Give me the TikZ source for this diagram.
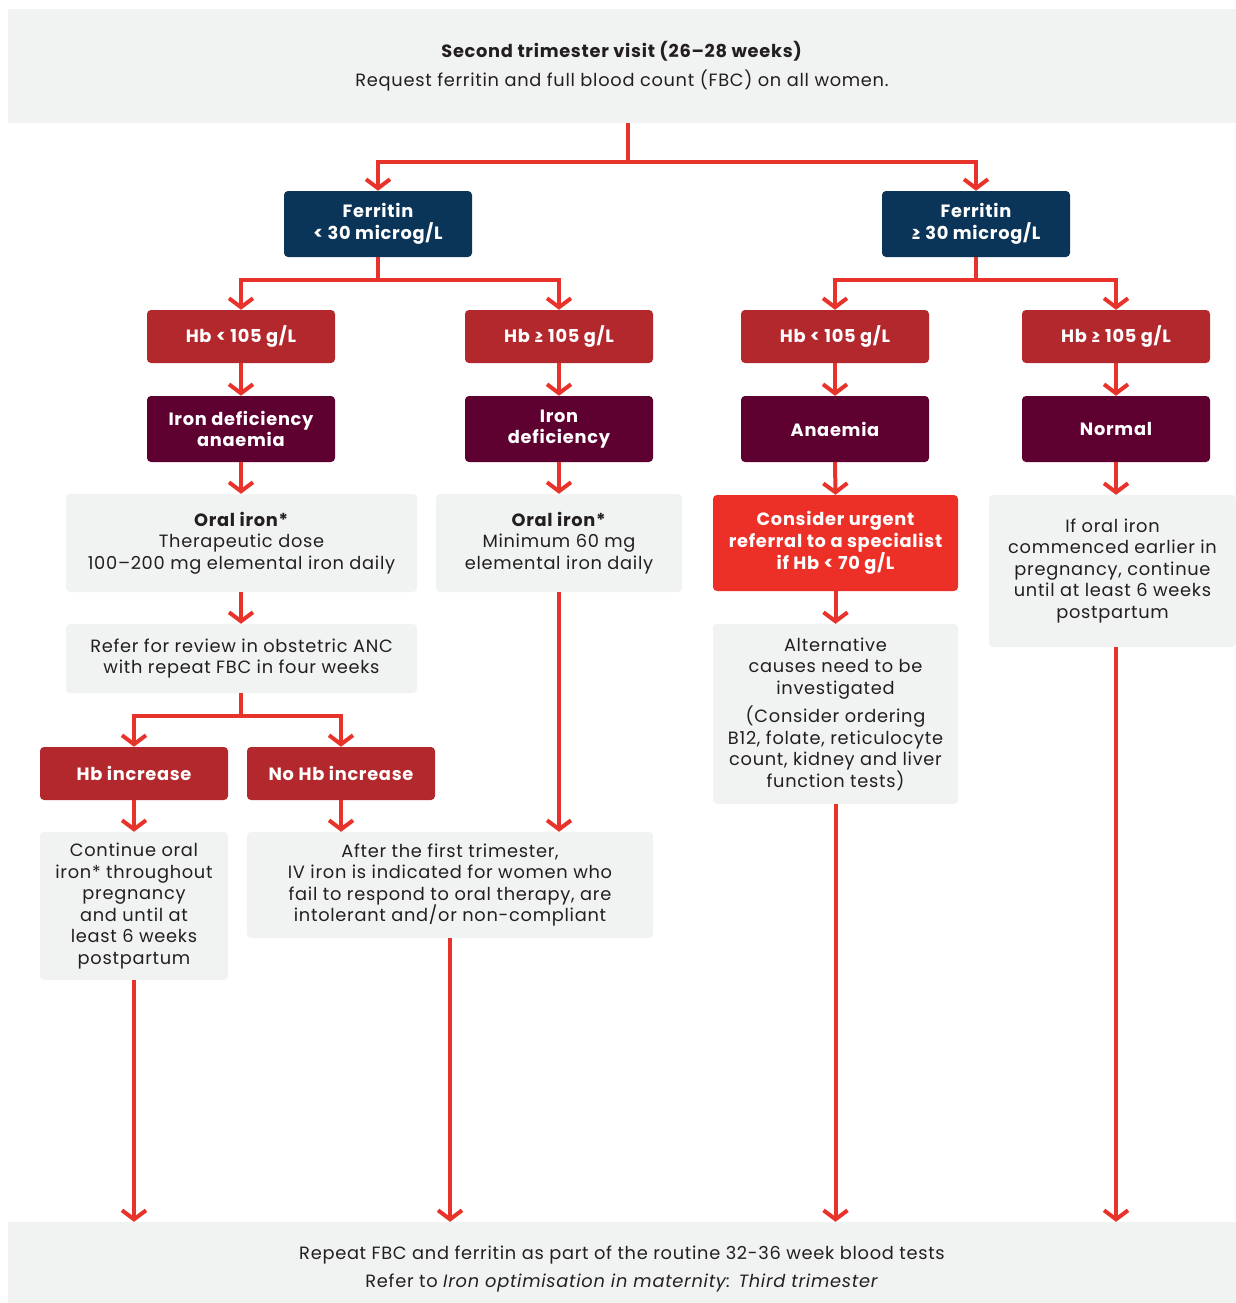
\documentclass[tikz,border=0pt]{standalone}
\usepackage{fontspec}
\setmainfont{Poppins}[LetterSpace=4]
\usetikzlibrary{arrows.meta}
\definecolor{arrred}{HTML}{E8332A}
\definecolor{navy}{HTML}{0B3558}
\definecolor{hbred}{HTML}{B3282D}
\definecolor{maroon}{HTML}{5E0030}
\definecolor{urgred}{HTML}{EC3027}
\definecolor{lgray}{HTML}{F1F2F2}
\definecolor{txt}{HTML}{231F20}
\tikzset{
  box/.style={rounded corners=4pt, inner sep=0pt, align=center},
  graybox/.style={box, fill=lgray, text=txt, font=\fontsize{17.8}{21.5}\selectfont},
  colbox/.style={box, text=white, font=\bfseries\fontsize{17.8}{21.5}\selectfont, minimum width=188pt},
  navybox/.style={colbox, fill=navy, minimum height=66pt},
  hbbox/.style={colbox, fill=hbred, minimum height=53pt},
  dxbox/.style={colbox, fill=maroon, minimum height=66pt},
  conn/.style={draw=arrred, line width=4pt, line join=miter},
  arr/.style={conn, -{Straight Barb[length=9pt,width=24pt,line width=4pt]}}
}
\begin{document}
\begin{tikzpicture}[x=1pt,y=-1pt]
\useasboundingbox (0,0) rectangle (1236,1303);
% top
\node[graybox, rounded corners=0pt, minimum width=1228pt, minimum height=114pt] (top) at (622,66)
  {\textbf{Second trimester visit (26–28 weeks)}\\[7pt]Request ferritin and full blood count (FBC) on all women.};
% ferritin
\node[navybox] (ferL) at (378,224) {Ferritin\\< 30 microg/L};
\node[navybox] (ferR) at (976,224) {Ferritin\\≥ 30 microg/L};
% hb
\node[hbbox] (hb1) at (241,336.5) {Hb < 105 g/L};
\node[hbbox] (hb2) at (559,336.5) {Hb ≥ 105 g/L};
\node[hbbox] (hb3) at (835,336.5) {Hb < 105 g/L};
\node[hbbox] (hb4) at (1116,336.5) {Hb ≥ 105 g/L};
% dx
\node[dxbox] (dx1) at (241,429) {Iron deficiency\\anaemia};
\node[dxbox] (dx2) at (559,429) {Iron\\deficiency};
\node[dxbox] (dx3) at (835,429) {Anaemia};
\node[dxbox] (dx4) at (1116,429) {Normal};
% third row
\node[graybox, minimum width=351pt, minimum height=98pt] (oral1) at (241.5,543)
  {\textbf{Oral iron*}\\Therapeutic dose\\100–200 mg elemental iron daily};
\node[graybox, minimum width=246pt, minimum height=98pt] (oral2) at (559,543)
  {\textbf{Oral iron*}\\Minimum 60 mg\\elemental iron daily};
\node[box, fill=urgred, text=white, font=\bfseries\fontsize{17.8}{21.5}\selectfont, minimum width=245pt, minimum height=96pt] (urg) at (835.5,543)
  {Consider urgent\\referral to a specialist\\if Hb < 70 g/L};
\node[graybox, minimum width=247pt, minimum height=152pt] (ifor) at (1112.5,571)
  {If oral iron\\commenced earlier in\\pregnancy, continue\\until at least 6 weeks\\postpartum};
% fourth
\node[graybox, minimum width=351pt, minimum height=69pt] (refer) at (241.5,658.5)
  {Refer for review in obstetric ANC\\with repeat FBC in four weeks};
\node[graybox, minimum width=245pt, minimum height=180pt] (alt) at (835.5,714)
  {Alternative\\causes need to be\\investigated\\[7pt](Consider ordering\\B12, folate, reticulocyte\\count, kidney and liver\\function tests)};
\node[hbbox] (inc) at (134,773.5) {Hb increase};
\node[hbbox] (noinc) at (341,773.5) {No Hb increase};
\node[graybox, minimum width=188pt, minimum height=148pt] (cont) at (134,906)
  {Continue oral\\iron* throughout\\pregnancy\\and until at\\least 6 weeks\\postpartum};
\node[graybox, minimum width=406pt, minimum height=106pt] (after) at (450,885)
  {After the first trimester,\\IV iron is indicated for women who\\fail to respond to oral therapy, are\\intolerant and/or non-compliant};
% bottom
\node[graybox, rounded corners=0pt, minimum width=1228pt, minimum height=94pt] (bot) at (622,1269)
  {Repeat FBC and ferritin as part of the routine 32-36 week blood tests\\[6pt]Refer to \textit{Iron optimisation in maternity: Third trimester}};
% connectors
\coordinate (j0) at (628,162);
\draw[conn] (top.south -| j0) -- (j0);
\draw[arr] (j0) -| (ferL.north);
\draw[arr] (j0) -| (ferR.north);
\coordinate (j1) at (378,280);
\draw[conn] (ferL.south) -- (j1);
\draw[arr] (j1) -| (hb1.north);
\draw[arr] (j1) -| (hb2.north);
\coordinate (j2) at (976,280);
\draw[conn] (ferR.south) -- (j2);
\draw[arr] (j2) -| (hb3.north);
\draw[arr] (j2) -| (hb4.north);
\foreach \i in {1,2,3,4} {\draw[arr] (hb\i.south) -- (dx\i.north);}
\draw[arr] (dx1.south) -- (dx1.south |- oral1.north);
\draw[arr] (dx2.south) -- (oral2.north);
\draw[arr] (dx3.south) -- (urg.north);
\draw[arr] (dx4.south) -- (dx4.south |- ifor.north);
\draw[arr] (oral1.south -| dx1.south) -- (refer.north -| dx1.south);
\draw[arr] (urg.south) -- (alt.north);
\coordinate (j3) at (241,716);
\draw[conn] (refer.south -| j3) -- (j3);
\draw[arr] (j3) -| (inc.north);
\draw[arr] (j3) -| (noinc.north);
\draw[arr] (inc.south) -- (cont.north);
\draw[arr] (noinc.south) -- (noinc.south |- after.north);
\draw[arr] (oral2.south) -- (oral2.south |- after.north);
\draw[arr] (cont.south) -- (cont.south |- bot.north);
\draw[arr] (after.south) -- (after.south |- bot.north);
\draw[arr] (alt.south) -- (alt.south |- bot.north);
\draw[arr] (ifor.south -| hb4.south) -- (hb4.south |- bot.north);
\end{tikzpicture}
\end{document}
